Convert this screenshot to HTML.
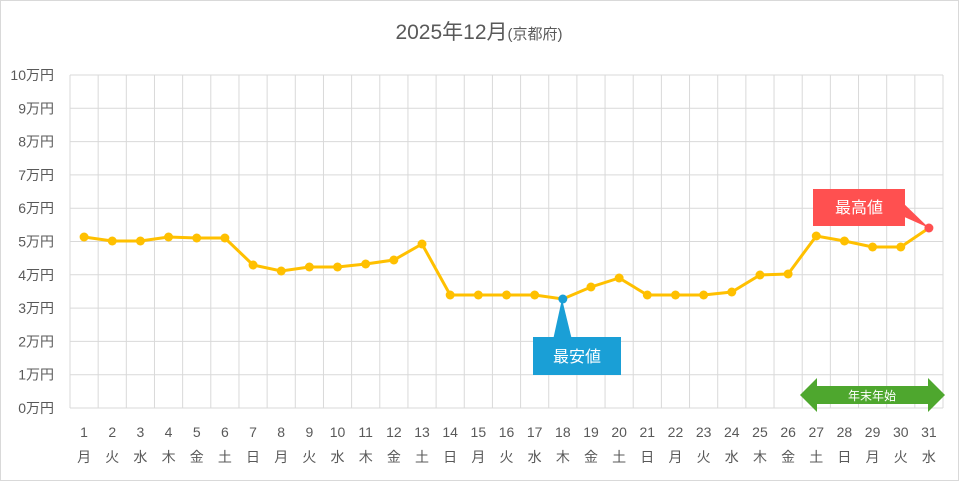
<!DOCTYPE html>
<html><head><meta charset="utf-8"><style>
body{margin:0;background:#fff}
svg text{font-family:"Liberation Sans","Noto Sans CJK JP",sans-serif}
</style></head><body>
<svg width="959" height="481" viewBox="0 0 959 481" xmlns="http://www.w3.org/2000/svg">
<rect x="0.5" y="0.5" width="958" height="480" fill="#fff" stroke="#d9d9d9"/>
<text x="479" y="39" text-anchor="middle" font-size="21" fill="#595959">2025年12月<tspan font-size="15">(京都府)</tspan></text>
<g id="grid" stroke="#d9d9d9" stroke-width="1"></g>
<g id="ylab" font-size="14" fill="#595959" text-anchor="end"></g>
<g id="xlab" font-size="14" fill="#595959" text-anchor="middle"></g>
<polygon points="800,395 817,378 817,386 928,386 928,378 945,395 928,412 928,404 817,404 817,412" fill="#4ea72e"/>
<text x="872" y="400" text-anchor="middle" font-size="12" fill="#fff">年末年始</text>
<polyline id="line" fill="none" stroke="#ffc000" stroke-width="3"/>
<g id="dots"></g>
<polygon points="553,340 562,299 572,340" fill="#1a9fd6"/>
<rect x="533" y="337" width="88" height="38" fill="#1a9fd6"/>
<text x="577" y="362" text-anchor="middle" font-size="16" fill="#fff">最安値</text>
<polygon points="900,200 929,228 900,215" fill="#ff5050"/>
<rect x="813" y="189" width="92" height="37" fill="#ff5050"/>
<text x="859" y="213" text-anchor="middle" font-size="16" fill="#fff">最高値</text>
</svg>
<script>
var ns="http://www.w3.org/2000/svg";
function el(p,t,a,txt){var e=document.createElementNS(ns,t);for(var k in a)e.setAttribute(k,a[k]);if(txt!=null)e.textContent=txt;document.getElementById(p).appendChild(e);return e;}
var L=70,R=943,T=75,B=408,w=(R-L)/31;
for(var i=0;i<=10;i++){var y=T+(B-T)*i/10;el("grid","line",{x1:L,x2:R,y1:y,y2:y});el("ylab","text",{x:54,y:y+5},(10-i)+"万円");}
for(var i=0;i<=31;i++){var x=L+w*i;el("grid","line",{x1:x,x2:x,y1:T,y2:B});}
var wd=["月","火","水","木","金","土","日"];
var ys=[237,241,241,237,238,238,265,271,267,267,264,260,244,295,295,295,295,299,287,278,295,295,295,292,275,274,236,241,247,247,228];
var pts=[];
for(var d=0;d<31;d++){var x=L+w*(d+0.5);el("xlab","text",{x:x,y:437},d+1);el("xlab","text",{x:x,y:462},wd[d%7]);pts.push(x+","+ys[d]);
var c=d==17?"#1a9fd6":d==30?"#ff5050":"#ffc000";el("dots","circle",{cx:x,cy:ys[d],r:4.5,fill:c});}
document.getElementById("line").setAttribute("points",pts.join(" "));
</script>
</body></html>
